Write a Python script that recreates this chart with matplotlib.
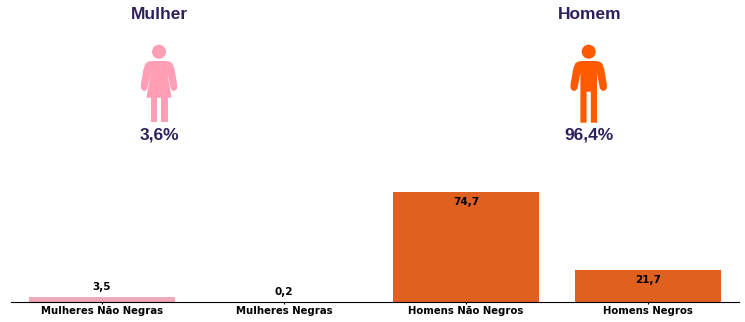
import matplotlib
matplotlib.use("Agg")
import matplotlib.pyplot as plt
from matplotlib.patches import Circle, Polygon, Rectangle

# Data
categories = ["Mulheres Não Negras", "Mulheres Negras", "Homens Não Negros", "Homens Negros"]
values = [3.5, 0.2, 74.7, 21.7]
value_labels = ["3,5", "0,2", "74,7", "21,7"]
bar_colors = ["#EFA9BB", "#EFA9BB", "#E06020", "#E06020"]

group_names = ["Mulher", "Homem"]
group_shares = ["3,6%", "96,4%"]

TEXT_COLOR = "#2F1F5C"
PINK = "#FF9EB5"
ORANGE = "#FF5A00"

fig = plt.figure(figsize=(7.45, 3.22), dpi=100)

# Bars
ax = fig.add_axes([11 / 745, 20 / 322, 728 / 745, 302 / 322])
ax.bar(range(4), values, width=0.8, color=bar_colors)
ax.set_xlim(-0.5, 3.5)
ax.set_ylim(0, 205)
ax.set_xticks(range(4))
ax.set_xticklabels(categories, fontsize=7.3, fontweight="bold")
ax.set_yticks([])
ax.tick_params(axis="x", length=1.5, width=0.8, pad=1.5)
for side in ["top", "left", "right"]:
    ax.spines[side].set_visible(False)
ax.patch.set_alpha(0)

# Value labels, inside the tall bars and above the short ones
for i, v in enumerate(values):
    offset = -7.2 if v > 10 else 7.2
    ax.annotate(value_labels[i], (i, v), xytext=(0, offset), textcoords="offset points",
                ha="center", va="center", fontsize=7.5, fontweight="bold", color="black")

# Overlay in pixel units for the pictograms
ov = fig.add_axes([0, 0, 1, 1])
ov.set_xlim(0, 745)
ov.set_ylim(322, 0)
ov.axis("off")


def limb(a, cx, y0, y1, w, color):
    a.add_patch(Rectangle((cx - w / 2, y0), w, y1 - y0, color=color, lw=0))


def mirrored(half):
    # right half outline, top to bottom, closed by its mirror image
    return half + [(-x, y) for x, y in reversed(half)]


def woman(a, cx, color):
    a.add_patch(Circle((cx, 51.7), 7, color=color, lw=0))
    half = [(7, 61), (10.5, 61.5), (13.5, 63.5), (15.5, 69), (18.3, 85.5), (18, 88.5), (16, 90.8), (13.5, 90.8),
            (11.8, 88.5), (8.2, 72), (12.5, 97.7)]
    a.add_patch(Polygon([(cx + x, y) for x, y in mirrored(half)], closed=True, color=color, lw=0))
    limb(a, cx - 5.3, 97, 121.7, 6.4, color)
    limb(a, cx + 5.3, 97, 121.7, 6.4, color)


def man(a, cx, color):
    a.add_patch(Circle((cx, 51.7), 7, color=color, lw=0))
    half = [(7, 61), (10.5, 61.5), (13.5, 63.5), (15.5, 69), (18.3, 85.5), (18, 88.5), (16, 90.8), (13.5, 90.8),
            (11.2, 88.5), (8.3, 73), (8.3, 122.7), (2.1, 122.7), (2.1, 91.7)]
    a.add_patch(Polygon([(cx + x, y) for x, y in mirrored(half)], closed=True, color=color, lw=0))


woman(ov, 159, PINK)
man(ov, 588.7, ORANGE)

# Group names and shares
for cx, name, share in zip([159.8, 589.2], group_names, group_shares):
    ov.text(cx, 14.5, name, ha="center", va="center", fontsize=12.5, fontweight="bold",
            family="Liberation Sans", color=TEXT_COLOR)
    ov.text(cx, 135, share, ha="center", va="center", fontsize=12.5, fontweight="bold",
            family="Liberation Sans", color=TEXT_COLOR)

fig.savefig("out.png", dpi=100)
